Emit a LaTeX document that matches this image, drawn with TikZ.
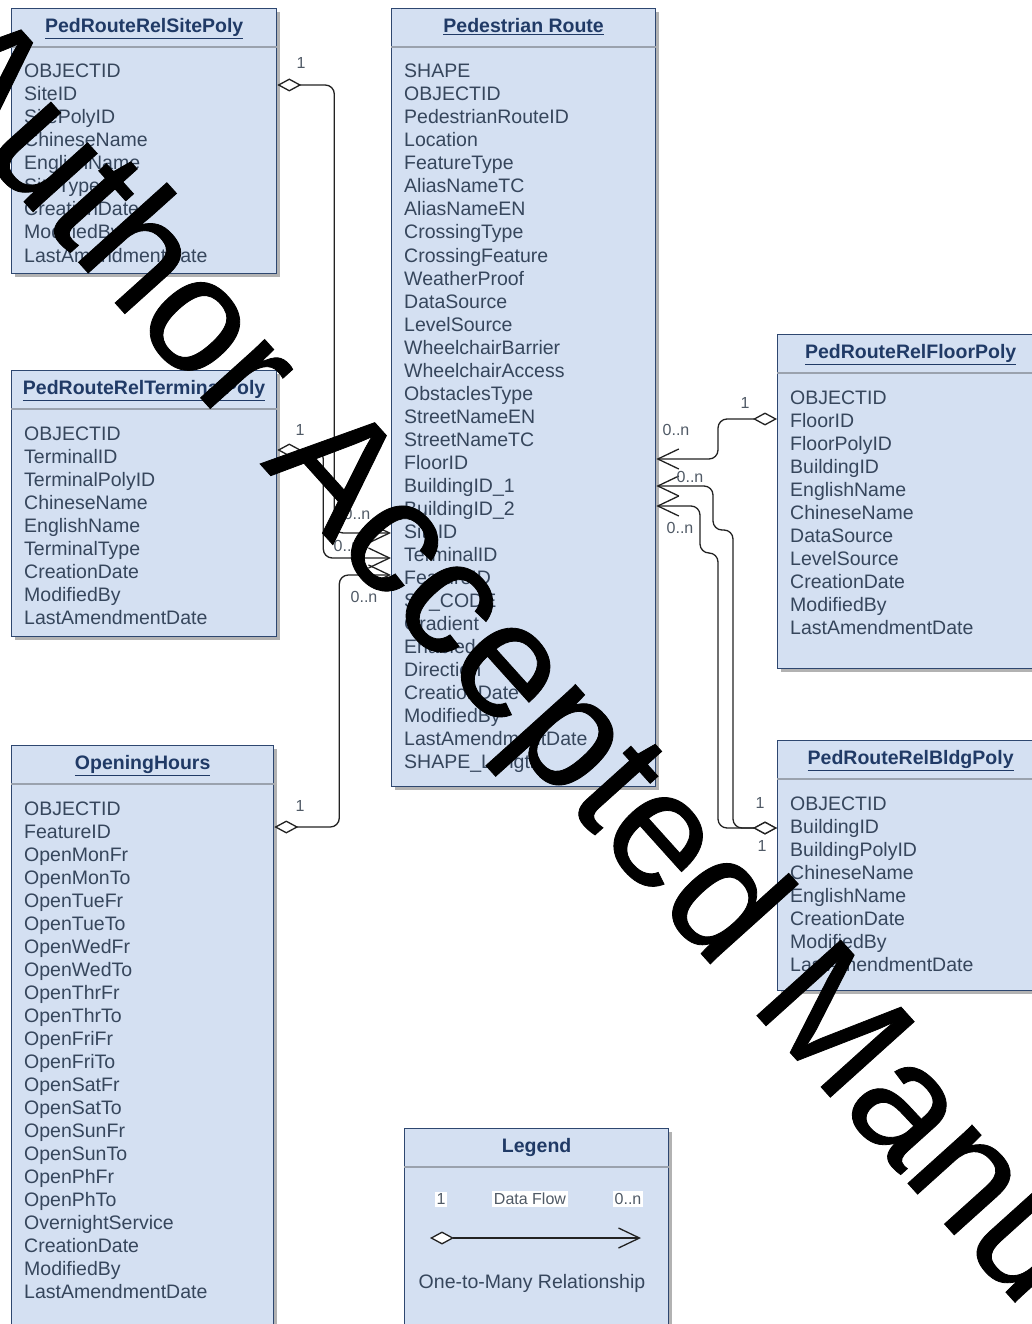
\documentclass[tikz,border=0pt]{standalone}
\usepackage{fontspec}
\setmainfont{Liberation Sans}
\newfontfamily\wmfont[FakeBold=0.5]{Liberation Sans}
\usetikzlibrary{arrows.meta,shadows}
\definecolor{boxfill}{HTML}{D4E0F2}
\definecolor{boxdraw}{HTML}{2E4770}
\definecolor{hdtext}{HTML}{203A66}
\definecolor{attrtext}{HTML}{36465C}
\definecolor{sepline}{HTML}{9AA2AE}
\definecolor{lbltext}{HTML}{505A66}
\definecolor{conncol}{HTML}{222222}
\tikzset{
  box/.style={draw=boxdraw, line width=1.3pt, fill=boxfill, anchor=north west, inner sep=0pt,
    drop shadow={shadow xshift=3pt, shadow yshift=-3pt, fill=black!30, opacity=1}},
  hdr/.style={font=\fontsize{19.5}{23}\selectfont\bfseries, text=hdtext, anchor=base, inner sep=0pt},
  attr/.style={font=\fontsize{19.5}{23}\selectfont, text=attrtext, anchor=base west, inner sep=0pt},
  mult/.style={font=\fontsize{16}{18}\selectfont, text=lbltext, anchor=center, inner sep=1pt},
  rel/.style={draw=conncol, line width=1.3pt, rounded corners=9pt,
    {Diamond[open, fill=white, length=24pt, width=13pt]}-{Straight Barb[length=21pt, width=20pt]}},
  sepl/.style={draw=sepline, line width=1.5pt},
}
\begin{document}
\begin{tikzpicture}[x=1pt, y=-1pt]
\useasboundingbox (0,0) rectangle (1031,1324);
\fill[white] (0,0) rectangle (1031,1324);

% boxes
\node[box, minimum width=265pt, minimum height=265pt] (site) at (11,8) {};
\node[box, minimum width=264pt, minimum height=778pt] (pr) at (391,8) {};
\node[box, minimum width=265pt, minimum height=266pt] (term) at (11,370) {};
\node[box, minimum width=262pt, minimum height=620pt] (open) at (11,745) {};
\node[box, minimum width=266pt, minimum height=334pt] (floor) at (777,334) {};
\node[box, minimum width=266pt, minimum height=250pt] (bldg) at (777,740) {};
\node[box, minimum width=264pt, minimum height=220pt] (leg) at (404,1128) {};

% header separators
\foreach \b in {site,pr,term,open,floor,bldg,leg}
  \draw[sepl] ([yshift=-39pt]\b.north west) -- ([yshift=-39pt]\b.north east);

% headers
\node[hdr] (siteH) at ([yshift=-24.5pt]site.north) {\underline{PedRouteRelSitePoly}};
\node[hdr] (prH) at ([yshift=-24.5pt]pr.north) {\underline{Pedestrian Route}};
\node[hdr] (termH) at ([yshift=-24.5pt]term.north) {\underline{PedRouteRelTerminalPoly}};
\node[hdr] (openH) at ([yshift=-24.5pt]open.north) {\underline{OpeningHours}};
\node[hdr] (floorH) at ([yshift=-24.5pt]floor.north) {\underline{PedRouteRelFloorPoly}};
\node[hdr] (bldgH) at ([yshift=-24.5pt]bldg.north) {\underline{PedRouteRelBldgPoly}};
\node[hdr] (legH) at ([yshift=-24.5pt]leg.north) {Legend};

% attributes
\foreach \t [count=\i] in {OBJECTID,SiteID,SitePolyID,ChineseName,EnglishName,SiteType,CreationDate,ModifiedBy,LastAmendmentDate}
  \node[attr] (siteA\i) at (24,{78+23*(\i-1)}) {\t};
\foreach \t [count=\i] in {SHAPE,OBJECTID,PedestrianRouteID,Location,FeatureType,AliasNameTC,AliasNameEN,CrossingType,CrossingFeature,WeatherProof,DataSource,LevelSource,WheelchairBarrier,WheelchairAccess,ObstaclesType,StreetNameEN,StreetNameTC,FloorID,BuildingID\_1,BuildingID\_2,SiteID,TerminalID,FeatureID,ST\_CODE,Gradient,Enabled,Direction,CreationDate,ModifiedBy,LastAmendmentDate,SHAPE\_Length}
  \node[attr] (prA\i) at (404,{78+23*(\i-1)}) {\t};
\foreach \t [count=\i] in {OBJECTID,TerminalID,TerminalPolyID,ChineseName,EnglishName,TerminalType,CreationDate,ModifiedBy,LastAmendmentDate}
  \node[attr] (termA\i) at (24,{440+23*(\i-1)}) {\t};
\foreach \t [count=\i] in {OBJECTID,FeatureID,OpenMonFr,OpenMonTo,OpenTueFr,OpenTueTo,OpenWedFr,OpenWedTo,OpenThrFr,OpenThrTo,OpenFriFr,OpenFriTo,OpenSatFr,OpenSatTo,OpenSunFr,OpenSunTo,OpenPhFr,OpenPhTo,OvernightService,CreationDate,ModifiedBy,LastAmendmentDate}
  \node[attr] (openA\i) at (24,{815+23*(\i-1)}) {\t};
\foreach \t [count=\i] in {OBJECTID,FloorID,FloorPolyID,BuildingID,EnglishName,ChineseName,DataSource,LevelSource,CreationDate,ModifiedBy,LastAmendmentDate}
  \node[attr] (floorA\i) at (790,{404+23*(\i-1)}) {\t};
\foreach \t [count=\i] in {OBJECTID,BuildingID,BuildingPolyID,ChineseName,EnglishName,CreationDate,ModifiedBy,LastAmendmentDate}
  \node[attr] (bldgA\i) at (790,{810+23*(\i-1)}) {\t};

% connectors
\draw[rel] ([yshift=-77pt]site.north east) -- ++(57,0) |- ([yshift=-525pt]pr.north west);
\draw[rel] ([yshift=-80pt]term.north east) -- ++(46,0) |- ([yshift=-550pt]pr.north west);
\draw[rel] ([yshift=-82pt]open.north east) -- ++(65,0) |- ([yshift=-567pt]pr.north west);
\draw[rel] ([yshift=-85pt]floor.north west) -- ++(-59,0) |- ([yshift=-451pt]pr.north east);
\draw[rel] ([yshift=-88pt]bldg.north west) -- ++(-44,0) -- ++(0,-298) -- ++(-20,0) |- ([yshift=-478pt]pr.north east);
\draw[rel] ([yshift=-88pt]bldg.north west) -- ++(-59,0) -- ++(0,-275) -- ++(-18,0) |- ([yshift=-498pt]pr.north east);

% multiplicities
\node[mult] (m1a) at (301,63) {1};
\node[mult] (m1b) at (357,514) {0..n};
\node[mult] (m2a) at (300,430) {1};
\node[mult] (m2b) at (347,546) {0..n};
\node[mult] (m3a) at (300,806) {1};
\node[mult] (m3b) at (364,597) {0..n};
\node[mult] (m4a) at (745,403) {1};
\node[mult] (m4b) at (676,430) {0..n};
\node[mult] (m5a) at (760,803) {1};
\node[mult] (m5b) at (690,477) {0..n};
\node[mult] (m6a) at (762,846) {1};
\node[mult] (m6b) at (680,528) {0..n};

% legend
\node[mult, fill=white, inner sep=2pt] (leg1) at (441,1199) {1};
\node[mult, fill=white, inner sep=2pt] (legDF) at (530,1199) {Data Flow};
\node[mult, fill=white, inner sep=2pt] (legN) at (628,1199) {0..n};
\coordinate (legL) at (430,1238);
\coordinate (legR) at (641,1238);
\draw[rel] (legL) -- (legR);
\node[font=\fontsize{19.5}{23}\selectfont, text=attrtext] (legT) at (532,1283) {One-to-Many Relationship};

% watermark
\node[font=\wmfont\fontsize{164}{164}\selectfont, rotate=-48, text=black, inner sep=0pt] (wm) at (627,808) {Author Accepted Manuscript};
\end{tikzpicture}
\end{document}
